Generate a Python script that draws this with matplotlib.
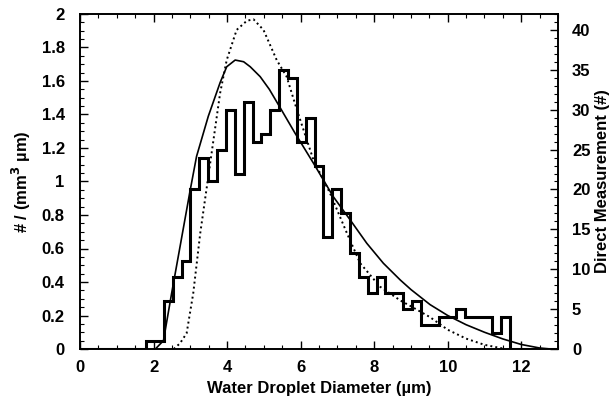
import numpy as np
import matplotlib
matplotlib.use("Agg")
import matplotlib.pyplot as plt
from matplotlib.ticker import MultipleLocator, FixedLocator

plt.rcParams['font.family'] = ['Liberation Sans', 'DejaVu Sans']
plt.rcParams['font.weight'] = 'bold'

# Histogram (direct measurement counts, right axis)
bin_start = 1.80
bin_width = 0.241
counts = [1, 1, 6, 9, 11, 20, 24, 21, 25, 30, 22, 31, 26, 27, 30, 35, 34, 26,
          29, 23, 14, 20, 17, 12, 9, 7, 9, 7, 7, 5, 6, 3, 3, 4, 4, 5, 4, 4, 4, 2, 4]

# Solid fit curve (left axis)
solid_x = [2.05, 2.27, 2.49, 2.72, 2.99, 3.17, 3.49, 3.81, 3.99, 4.22, 4.45,
           4.63, 4.90, 5.15, 5.40, 5.85, 6.35, 6.89, 7.35, 7.80, 8.25, 8.71,
           9.00, 9.52, 10.0, 10.5, 11.0, 11.5, 12.0, 12.5, 12.8]
solid_y = [0.0, 0.05, 0.33, 0.61, 0.94, 1.15, 1.39, 1.59, 1.685, 1.725, 1.715,
           1.685, 1.626, 1.55, 1.457, 1.288, 1.109, 0.909, 0.770, 0.631, 0.512,
           0.412, 0.355, 0.265, 0.200, 0.145, 0.100, 0.060, 0.027, 0.006, 0.0]

# Dotted fit curve (left axis)
dot_x = [2.55, 2.72, 2.90, 3.08, 3.27, 3.45, 3.63, 3.81, 3.99, 4.26, 4.54,
         4.72, 4.99, 5.35, 5.62, 5.90, 6.35, 6.80, 7.26, 7.62, 8.16, 8.71,
         9.00, 9.52, 10.0, 10.5, 11.0, 11.5]
dot_y = [0.0, 0.034, 0.094, 0.333, 0.691, 0.969, 1.248, 1.527, 1.725, 1.905,
         1.960, 1.968, 1.905, 1.725, 1.626, 1.427, 1.128, 0.930, 0.691, 0.512,
         0.372, 0.290, 0.255, 0.190, 0.115, 0.062, 0.025, 0.003]

x_ticks = [0, 2, 4, 6, 8, 10, 12]
left_ticks = [0, 0.2, 0.4, 0.6, 0.8, 1, 1.2, 1.4, 1.6, 1.8, 2]
left_labels = ["0", "0.2", "0.4", "0.6", "0.8", "1", "1.2", "1.4", "1.6", "1.8", "2"]
right_ticks = [0, 5, 10, 15, 20, 25, 30, 35, 40]

fig = plt.figure(figsize=(6.12, 4.0), dpi=100)
ax = fig.add_axes([0.1307, 0.1275, 0.7811, 0.8375])
ax2 = ax.twinx()

edges = bin_start + bin_width * np.arange(len(counts) + 1)
all_edges = np.concatenate([[0.0], edges, [13.0]])
all_counts = np.concatenate([[0], counts, [0]])
ax2.stairs(all_counts, all_edges, color='black', linewidth=2.2, baseline=None)

ax.plot(solid_x, solid_y, color='black', linewidth=1.2, solid_joinstyle='round')
ax.plot(dot_x, dot_y, color='black', linewidth=1.4, linestyle=(0, (1, 1.6)))

ax.set_xlim(0, 13)
ax.set_ylim(0, 2)
ax2.set_ylim(0, 42)

ax.xaxis.set_major_locator(FixedLocator(x_ticks))
ax.xaxis.set_minor_locator(MultipleLocator(0.5))
ax.set_yticks(left_ticks)
ax.set_yticklabels(left_labels)
ax.yaxis.set_minor_locator(MultipleLocator(0.05))
ax2.set_yticks(right_ticks)
ax2.yaxis.set_minor_locator(MultipleLocator(1))

ax.tick_params(axis='both', which='both', direction='in', top=True, labelsize=12)
ax.tick_params(axis='both', which='major', length=6, width=1)
ax.tick_params(axis='x', which='major', pad=8)
ax.tick_params(axis='y', which='major', pad=11)
ax.tick_params(axis='both', which='minor', length=3, width=0.8)
ax.tick_params(axis='y', right=False)
ax2.tick_params(axis='y', which='both', direction='in', labelsize=12)
ax2.tick_params(axis='y', which='major', length=6, width=1, pad=10)
ax2.tick_params(axis='y', which='minor', length=3, width=0.8)

for a in (ax, ax2):
    for s in a.spines.values():
        s.set_linewidth(1.2)

ax.set_xlabel("Water Droplet Diameter (\u00b5m)", fontsize=12, fontweight='bold', labelpad=4)
ax.set_ylabel("# / (mm$^\\mathbf{3}$ \u00b5m)", fontsize=12, fontweight='bold', labelpad=6)
ax2.set_ylabel("Direct Measurement (#)", fontsize=12, fontweight='bold', labelpad=3)

fig.savefig("out.png", dpi=100)
